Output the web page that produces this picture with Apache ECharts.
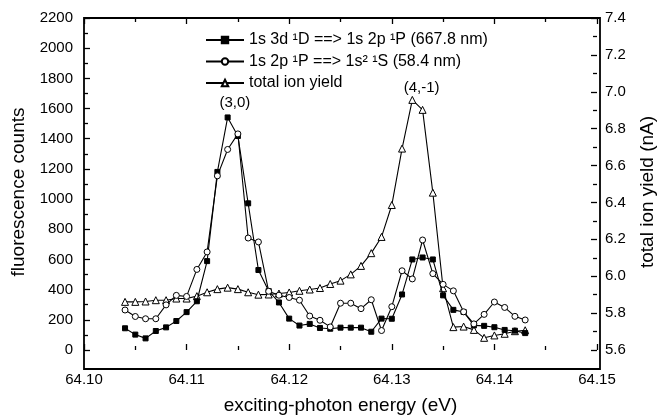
<!DOCTYPE html>
<html>
<head>
<meta charset="utf-8">
<script src="https://cdn.jsdelivr.net/npm/echarts@6/dist/echarts.min.js"></script>
<style>html,body{margin:0;padding:0;background:#fff}#c{width:665px;height:420px}</style>
</head>
<body>
<div id="c"></div>
<script>
const energy = [64.104,64.105,64.106,64.107,64.108,64.109,64.110,64.111,64.112,64.113,64.114,64.115,64.116,64.117,64.118,64.119,64.120,64.121,64.122,64.123,64.124,64.125,64.126,64.127,64.128,64.129,64.130,64.131,64.132,64.133,64.134,64.135,64.136,64.137,64.138,64.139,64.140,64.141,64.142,64.143];
const fluor3d = [144,102,77,126,150,192,251,323,589,1180,1541,1418,972,530,391,315,208,162,173,146,141,148,148,148,121,208,207,368,600,613,600,362,266,252,163,160,151,133,128,112];
const fluor2p = [265,222,207,207,299,362,355,534,650,1154,1329,1432,742,716,389,363,348,330,225,197,153,310,310,274,333,129,287,525,471,729,506,435,392,253,173,236,318,282,223,199];
const ionYield = [5.861,5.861,5.863,5.870,5.870,5.879,5.879,5.892,5.913,5.930,5.938,5.930,5.913,5.900,5.901,5.906,5.912,5.921,5.928,5.936,5.958,5.976,6.010,6.056,6.125,6.213,6.386,6.692,6.956,6.902,6.453,5.935,5.724,5.727,5.709,5.666,5.679,5.688,5.702,5.707];
const seriesNames = ['1s 3d \u00B9D ==> 1s 2p \u00B9P (667.8 nm)', '1s 2p \u00B9P ==> 1s\u00B2 \u00B9S (58.4 nm)', 'total ion yield'];
const annotations = [{text:'(3,0)', x:64.1147, y:1635}, {text:'(4,-1)', x:64.1329, y:1740}];

const FONT = 'Liberation Sans, Arial, sans-serif';
const pair = (xs, ys) => xs.map((x, i) => [x, ys[i]]);
const chart = echarts.init(document.getElementById('c'), null, {renderer: 'canvas'});
const tickCommon = {show: true, inside: true, length: 6, lineStyle: {color: '#000', width: 1.3}};
const minorCommon = {show: true, splitNumber: 2, length: 4, lineStyle: {color: '#000', width: 1.3}};
chart.setOption({
  animation: false,
  backgroundColor: '#fff',
  textStyle: {fontFamily: FONT, color: '#000'},
  grid: {left: 84, right: 65, top: 18, bottom: 67},
  legend: {
    orient: 'vertical', left: 205, top: 32, padding: 0, itemWidth: 38, itemHeight: 8, itemGap: 5.5,
    textStyle: {fontFamily: FONT, fontSize: 16, color: '#000'},
    data: seriesNames
  },
  xAxis: [{
    type: 'value', min: 64.10, max: 64.15, interval: 0.01, position: 'bottom', offset: 16,
    axisLine: {show: false}, axisTick: tickCommon, minorTick: minorCommon,
    splitLine: {show: false},
    axisLabel: {fontFamily: FONT, fontSize: 15, color: '#000', margin: 6, formatter: v => v.toFixed(2)},
    name: 'exciting-photon energy (eV)', nameLocation: 'middle', nameGap: 30,
    nameTextStyle: {fontFamily: FONT, fontSize: 19, color: '#000'}
  }, {
    type: 'value', min: 64.10, max: 64.15, interval: 0.01, position: 'top',
    axisLine: {show: false}, axisTick: tickCommon, minorTick: minorCommon,
    splitLine: {show: false}, axisLabel: {show: false}
  }],
  yAxis: [{
    type: 'value', min: 0, max: 2200, interval: 200, position: 'left',
    axisLine: {show: false}, axisTick: tickCommon, minorTick: minorCommon,
    splitLine: {show: false},
    axisLabel: {fontFamily: FONT, fontSize: 15, color: '#000', margin: 11, formatter: v => String(v)},
    name: 'fluorescence counts', nameLocation: 'middle', nameGap: 55,
    nameTextStyle: {fontFamily: FONT, fontSize: 19, color: '#000', padding: [0, 16, 0, 0]}
  }, {
    type: 'value', min: 5.6, max: 7.4, interval: 0.2, position: 'right',
    axisLine: {show: false}, axisTick: tickCommon, minorTick: minorCommon,
    splitLine: {show: false},
    axisLabel: {fontFamily: FONT, fontSize: 15, color: '#000', margin: 8, formatter: v => v.toFixed(1)},
    name: 'total ion yield (nA)', nameLocation: 'middle', nameGap: 41,
    nameTextStyle: {fontFamily: FONT, fontSize: 19, color: '#000', padding: [0, 16, 0, 0]}
  }],
  series: [{
    name: seriesNames[2], type: 'line', xAxisIndex: 0, yAxisIndex: 1,
    data: pair(energy, ionYield), symbol: 'triangle', symbolSize: 7,
    itemStyle: {color: '#fff', borderColor: '#000', borderWidth: 1},
    lineStyle: {color: '#000', width: 1.1}, z: 2
  }, {
    name: seriesNames[0], type: 'line', xAxisIndex: 0, yAxisIndex: 0,
    data: pair(energy, fluor3d), symbol: 'rect', symbolSize: 5,
    itemStyle: {color: '#000', borderColor: '#000', borderWidth: 1},
    lineStyle: {color: '#000', width: 1.1}, z: 3
  }, {
    name: seriesNames[1], type: 'line', xAxisIndex: 0, yAxisIndex: 0,
    data: pair(energy, fluor2p), symbol: 'circle', symbolSize: 6,
    itemStyle: {color: '#fff', borderColor: '#000', borderWidth: 1},
    lineStyle: {color: '#000', width: 1.1}, z: 4
  }]
});
const g = [{type: 'rect', shape: {x: 84, y: 18, width: 516, height: 351}, style: {fill: 'none', stroke: '#000', lineWidth: 1.8}, z: 10}];
annotations.forEach(a => {
  const p = chart.convertToPixel({xAxisIndex: 0, yAxisIndex: 0}, [a.x, a.y]);
  g.push({type: 'text', x: p[0], y: p[1], style: {text: a.text, font: '15px ' + FONT, fill: '#000', align: 'center', verticalAlign: 'middle'}, z: 10});
});
chart.setOption({graphic: g});
</script>
</body>
</html>
